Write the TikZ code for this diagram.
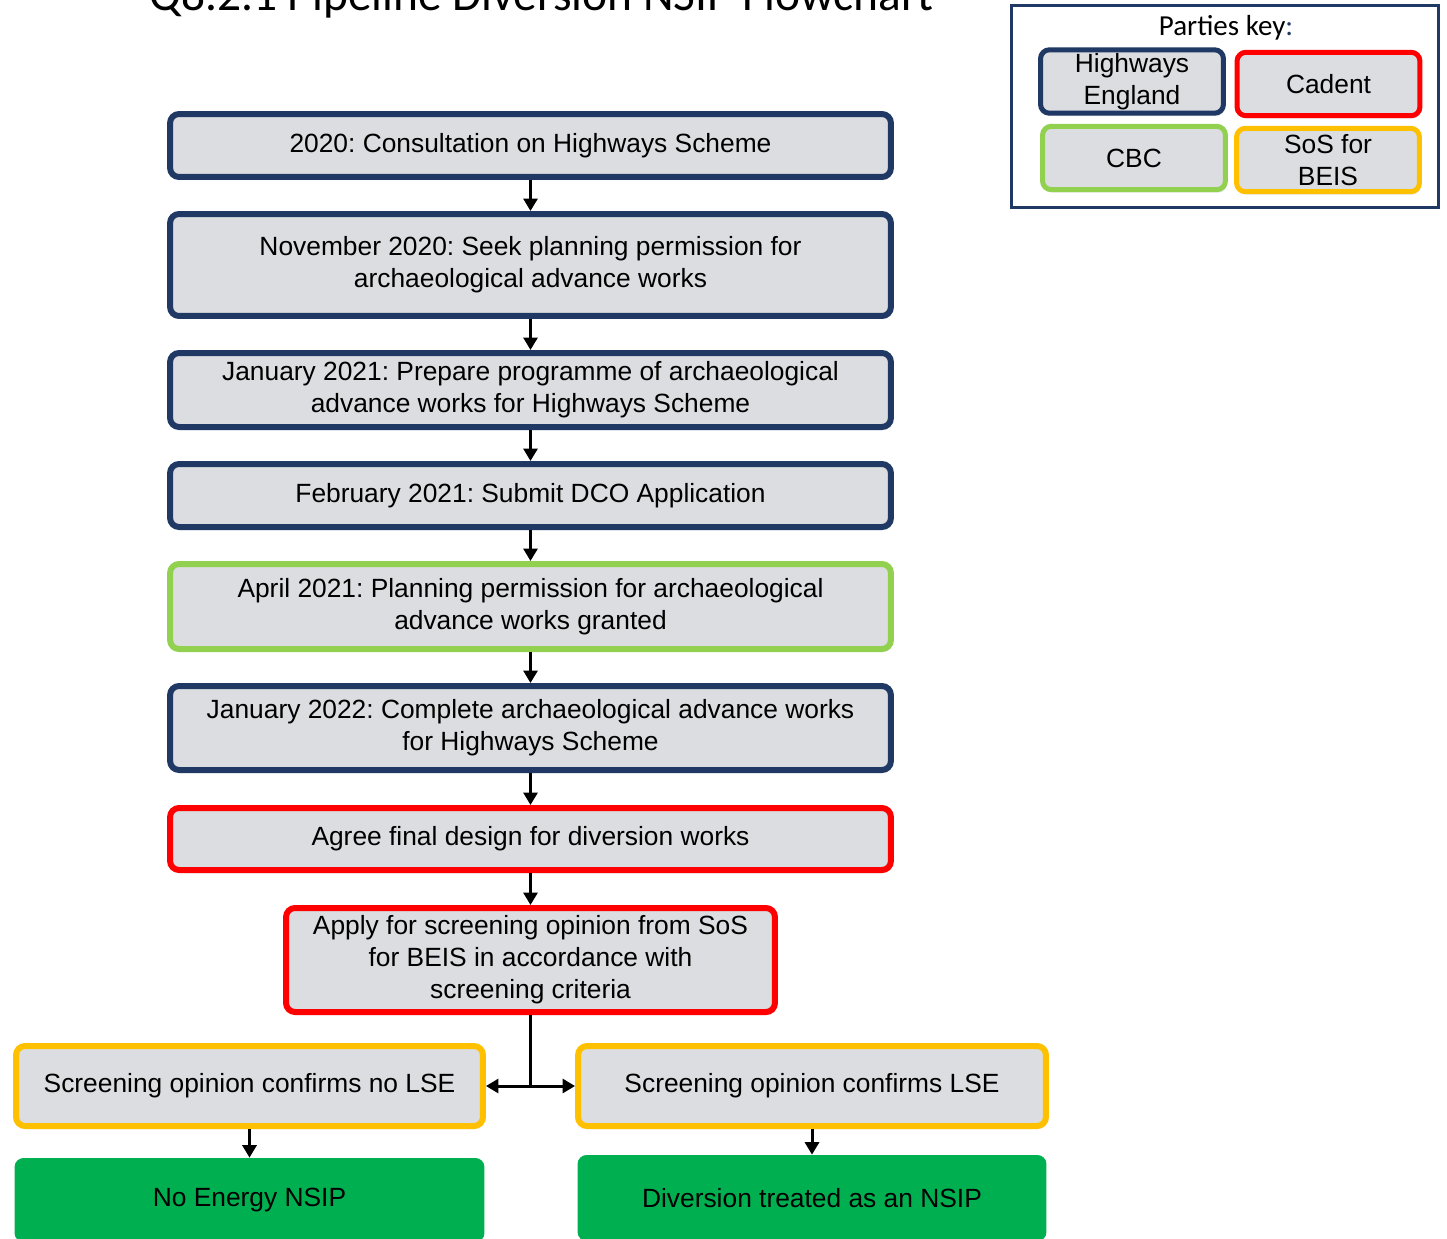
\documentclass[tikz,border=0pt]{standalone}
\usepackage{fontspec}
\setmainfont{Liberation Sans}
\newfontfamily\calibri{Carlito}
\usetikzlibrary{arrows.meta,shadows}
\frenchspacing

\definecolor{heblue}{HTML}{1F3864}
\definecolor{cadentred}{HTML}{FF0000}
\definecolor{cbcgreen}{HTML}{92D050}
\definecolor{sosorange}{HTML}{FFC000}
\definecolor{nsipgreen}{HTML}{00B050}
\definecolor{boxgrey}{HTML}{DCDDE0}

\tikzset{
	stage/.style={rectangle,rounded corners=0.18cm,fill=boxgrey,line width=0.12cm,
		align=center,inner sep=0pt,font=\fontsize{15}{18.2}\selectfont,
		drop shadow={opacity=0.18,shadow xshift=0.03cm,shadow yshift=-0.06cm}},
	keybox/.style={stage,line width=0.1cm,minimum width=3.66cm,minimum height=1.27cm},
	outcome/.style={rectangle,rounded corners=0.18cm,fill=nsipgreen,
		align=center,inner sep=0pt,font=\fontsize{15}{18.2}\selectfont},
	flow/.style={line width=0.06cm,-{Triangle[width=0.28cm,length=0.25cm]}}
}

\begin{document}
\begin{tikzpicture}[x=0.02cm,y=-0.02cm]
		\useasboundingbox (0,0) rectangle (1447,1238);
		
		% Title (cut at the top edge)
		\node[font=\calibri\fontsize{27}{32}\selectfont,anchor=base] (title) at (541.5,10) {Q8.2.1 Pipeline Diversion NSIP Flowchart};
		
		% Main column
		\node[stage,draw=heblue,minimum width=14.42cm,minimum height=1.26cm] (consult) at (530.5,145.5) {2020: Consultation on Highways Scheme};
		\node[stage,draw=heblue,minimum width=14.42cm,minimum height=2.04cm] (seek) at (530.5,265) {November 2020: Seek planning permission for\\archaeological advance works};
		\node[stage,draw=heblue,minimum width=14.42cm,minimum height=1.48cm] (programme) at (530.5,390) {January 2021: Prepare programme of archaeological\\advance works for Highways Scheme};
		\node[stage,draw=heblue,minimum width=14.42cm,minimum height=1.26cm] (dco) at (530.5,495.5) {February 2021: Submit DCO Application};
		\node[stage,draw=cbcgreen,minimum width=14.42cm,minimum height=1.70cm] (granted) at (530.5,606.5) {April 2021: Planning permission for archaeological\\advance works granted};
		\node[stage,draw=heblue,minimum width=14.42cm,minimum height=1.68cm] (complete) at (530.5,728) {January 2022: Complete archaeological advance works\\for Highways Scheme};
		\node[stage,draw=cadentred,minimum width=14.42cm,minimum height=1.24cm] (design) at (530.5,839) {Agree final design for diversion works};
		\node[stage,draw=cadentred,minimum width=9.78cm,minimum height=2.08cm] (apply) at (530.5,960) {Apply for screening opinion from SoS\\for BEIS in accordance with\\screening criteria};
		
		\foreach \A/\B in {consult/seek,seek/programme,programme/dco,dco/granted,granted/complete,complete/design,design/apply} {
			\draw[flow] (\A) -- (\B);
		}
		
		% Screening outcomes
		\node[stage,draw=sosorange,minimum width=9.34cm,minimum height=1.60cm] (nolse) at (249.5,1086) {Screening opinion confirms no LSE};
		\node[stage,draw=sosorange,minimum width=9.36cm,minimum height=1.60cm] (lse) at (812,1086) {Screening opinion confirms LSE};
		\coordinate (split) at (apply.south |- nolse.east);
		\draw[line width=0.06cm] (apply) -- (split);
		\draw[flow] (split) -- (nolse);
		\draw[flow] (split) -- (lse);
		
		\node[outcome,minimum width=9.40cm,minimum height=1.68cm] (noenergy) at (249.5,1200) {No Energy NSIP};
		\node[outcome,minimum width=9.38cm,minimum height=1.72cm] (nsip) at (812,1198) {Diversion treated as an NSIP};
		\draw[flow] (nolse) -- (noenergy);
		\draw[flow] (lse) -- (nsip);
		
		% Parties key
		\node[draw=heblue,line width=0.07cm,fill=white,minimum width=8.54cm,minimum height=4.04cm] (key) at (1225,106.5) {};
		\node[font=\calibri\fontsize{16.5}{20}\selectfont] (keytitle) at (1226,28) {Parties key\textcolor{heblue}{:}};
		\node[keybox,draw=heblue] (kehe) at (1132,81.5) {Highways\\England};
		\node[keybox,draw=cadentred] (kcadent) at (1328.5,84) {Cadent};
		\node[keybox,draw=cbcgreen] (kcbc) at (1134,158) {CBC};
		\node[keybox,draw=sosorange] (ksos) at (1328,160) {SoS for\\BEIS};
		
	\end{tikzpicture}
\end{document}
